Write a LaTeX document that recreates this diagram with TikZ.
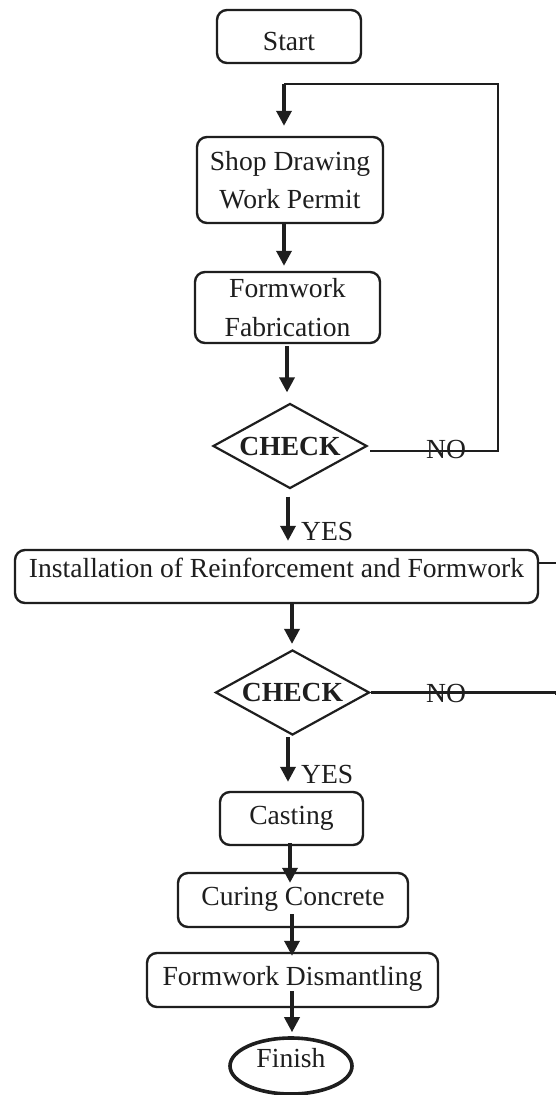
\documentclass[tikz,border=0pt]{standalone}
\usepackage{fontspec}
\setmainfont{Liberation Serif}
\usetikzlibrary{arrows.meta,shapes.geometric}
\definecolor{ink}{HTML}{1E1E1E}
\newcommand\myfs{\fontsize{27.6}{38.5}\selectfont}
\begin{document}
\begin{tikzpicture}[x=1pt,y=-1pt,
  every node/.style={text=ink},
  box/.style={draw=ink, rounded corners=10pt, line width=2.4pt, inner sep=0pt, font=\myfs, align=center},
  dec/.style={draw=ink, diamond, shape aspect=1.8, line width=2.2pt, inner sep=0pt,
              minimum width=154pt, minimum height=85pt, font=\myfs\bfseries},
  term/.style={draw=ink, ellipse, line width=3.6pt, inner sep=0pt, font=\myfs},
  lbl/.style={font=\myfs, inner sep=0pt},
  arr/.style={draw=ink, line width=3.4pt, -{Triangle[length=15pt,width=15pt]}},
  ln/.style={draw=ink, line width=2.2pt}]
\useasboundingbox (0,0) rectangle (556,1095);
\fill[white] (0,0) rectangle (556,1095);

% nodes
\node[box, minimum width=144pt, minimum height=53pt, text height=27pt, text depth=0pt] (start) at (289,36.5) {Start};
\node[box, minimum width=186pt, minimum height=86pt] (shop) at (290,180) {Shop Drawing\\Work Permit};
\node[box, minimum width=185pt, minimum height=71pt] (fab) at (287.5,307.5) {Formwork\\Fabrication};
\node[dec] (check1) at (290,446) {CHECK};
\node[box, minimum width=523pt, minimum height=53pt, text height=18pt, text depth=16pt] (install) at (276.5,576.5) {Installation of Reinforcement and Formwork};
\node[dec] (check2) at (292.5,692.5) {CHECK};
\node[box, minimum width=143pt, minimum height=53pt, text height=18pt, text depth=7pt] (casting) at (291.5,818.5) {Casting};
\node[box, minimum width=230pt, minimum height=54pt, text height=18pt, text depth=7pt] (curing) at (293,900) {Curing Concrete};
\node[box, minimum width=291pt, minimum height=54pt, text height=18pt, text depth=7pt] (dism) at (292.5,980) {Formwork Dismantling};
\node[term, minimum width=122pt, minimum height=56pt, text height=18pt, text depth=15pt] (finish) at (291,1066) {Finish};

% labels
\node[lbl] (no1) at (446,449) {NO};
\node[lbl] (no2) at (446,693) {NO};
\node[lbl, anchor=west] (yes1) at (301,531) {YES};
\node[lbl, anchor=west] (yes2) at (301,774) {YES};

% coordinates
\coordinate (loopL) at (284,84);
\coordinate (loopR) at (498,84);
\coordinate (no1y) at (498,451);
\coordinate (edge1) at (556,563);
\coordinate (edge2) at (556,695);
\coordinate (t1) at ([yshift=10pt]shop.north);
\coordinate (t2) at ([yshift=5pt]fab.north);
\coordinate (t3) at ([yshift=10pt]check1.north);
\coordinate (t4) at ([yshift=8pt]install.north);
\coordinate (s5) at ([yshift=2pt]install.south);
\coordinate (t6) at ([yshift=9pt]casting.north);
\coordinate (t7) at ([yshift=-11pt]curing.north);
\coordinate (t8) at ([yshift=-4pt]dism.north);
\coordinate (t9) at ([yshift=4pt]finish.north);

% loop-back lines
\draw[ln] ([xshift=2pt]check1.east |- no1y) -- (no1y) -- (loopR) -- (loopL);
\draw[ln] (install.east |- edge1) -- (edge1);
\draw[ln] (check2.east) -- (check2.east -| edge2) -- (edge2);

% arrows
\draw[arr] (loopL) -- (loopL |- t1);
\draw[arr] ([xshift=-6pt,yshift=2pt]shop.south) -- ([xshift=-6pt]shop.south |- t2);
\draw[arr] ([xshift=-0.5pt,yshift=-2pt]fab.south) -- ([xshift=-0.5pt]fab.south |- t3);
\draw[arr] ([xshift=-2pt,yshift=-7pt]check1.south) -- ([xshift=-2pt]check1.south |- t4);
\draw[arr] ([xshift=-0.5pt]check2.north |- s5) -- ([xshift=-0.5pt,yshift=5pt]check2.north);
\draw[arr] ([xshift=-4.5pt,yshift=-1pt]check2.south) -- ([xshift=-4.5pt]check2.south |- t6);
\draw[arr] ([xshift=-1.5pt,yshift=3pt]casting.south) -- ([xshift=-1.5pt]casting.south |- t7);
\draw[arr] ([xshift=-1pt,yshift=14pt]curing.south) -- ([xshift=-1pt]curing.south |- t8);
\draw[arr] ([xshift=-0.5pt,yshift=17pt]dism.south) -- ([xshift=-0.5pt]dism.south |- t9);
\end{tikzpicture}
\end{document}
